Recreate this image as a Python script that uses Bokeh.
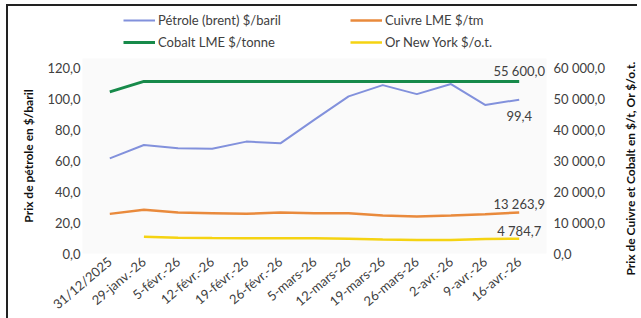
import math
from bokeh.plotting import figure
from bokeh.layouts import column, row
from bokeh.models import (ColumnDataSource, Range1d, FactorRange, LinearAxis,
                          FixedTicker, Legend, LegendItem, LabelSet)
from bokeh.core.properties import value
from bokeh.embed import file_html
from bokeh.resources import INLINE

dates = ["31/12/2025", "29-janv.-26", "5-févr.-26", "12-févr.-26", "19-févr.-26",
         "26-févr.-26", "5-mars-26", "12-mars-26", "19-mars-26", "26-mars-26",
         "2-avr.-26", "9-avr.-26", "16-avr.-26"]
petrole = [61.5, 70.1, 68.0, 67.7, 72.3, 71.2, 86.5, 101.5, 108.8, 103.0, 109.5, 96.0, 99.4]
cuivre = [12800, 14100, 13230, 13030, 12820, 13230, 13030, 13030, 12250, 11940, 12250, 12650, 13263.9]
cobalt = [52200, 55600, 55600, 55600, 55600, 55600, 55600, 55600, 55600, 55600, 55600, 55600, 55600]
or_dates = dates[1:]
or_ny = [5450, 5050, 4980, 4950, 4950, 4900, 4800, 4500, 4350, 4400, 4650, 4784.7]

left_ticks = [0, 20, 40, 60, 80, 100, 120]
right_ticks = [0, 10000, 20000, 30000, 40000, 50000, 60000]

series = [("Pétrole (brent) $/baril", "#8291dc", 2),
          ("Cobalt LME $/tonne", "#178a4a", 3),
          ("Cuivre LME $/tm", "#e98a3c", 2.5),
          ("Or New York $/o.t.", "#f5d312", 2.5)]

left_title = "Prix de pétrole en $/baril"
right_title = "Prix de Cuivre et Cobalt en $/t, Or $/o.t."


def fr(v):
    return f"{v:,.1f}".replace(",", " ").replace(".", ",")


FONT = "Lato"
TXT = "#404040"

# ---------------- main chart ----------------
p = figure(frame_width=464, frame_height=195, x_range=FactorRange(*dates), y_range=Range1d(0, 126),
           output_backend="svg", toolbar_location=None,
           min_border_left=74, min_border_right=58, min_border_top=6, min_border_bottom=20)
p.extra_y_ranges = {"right": Range1d(0, 63000)}
p.x_range.range_padding = 0.3
p.x_range.range_padding_units = "absolute"
p.background_fill_color = "#fafafa"
p.border_fill_color = "#ffffff"
p.outline_line_color = None
p.xgrid.visible = False
p.ygrid.visible = False

r_oil = p.line(dates, petrole, line_color=series[0][1], line_width=series[0][2])
r_cob = p.line(dates, cobalt, line_color=series[1][1], line_width=series[1][2], y_range_name="right")
r_cu = p.line(dates, cuivre, line_color=series[2][1], line_width=series[2][2], y_range_name="right")
r_or = p.line(or_dates, or_ny, line_color=series[3][1], line_width=series[3][2], y_range_name="right")

ya = p.yaxis[0]
ya.ticker = FixedTicker(ticks=left_ticks)
ya.major_label_overrides = {t: fr(t) for t in left_ticks}
ya.axis_label = left_title
ra = LinearAxis(y_range_name="right", ticker=FixedTicker(ticks=right_ticks))
ra.major_label_overrides = {t: fr(t) for t in right_ticks}
p.add_layout(ra, "right")
xa = p.xaxis[0]
xa.major_label_orientation = 0.7

for ax in (ya, ra, xa):
    ax.axis_line_color = None
    ax.major_tick_line_color = None
    ax.minor_tick_line_color = None
    ax.major_tick_in = 0
    ax.major_tick_out = 0
    ax.minor_tick_in = 0
    ax.minor_tick_out = 0
    ax.major_label_text_font = FONT
    ax.major_label_text_font_size = "13px"
    ax.major_label_text_color = TXT
    ax.axis_label_text_font = FONT
    ax.axis_label_text_font_size = "12px"
    ax.axis_label_text_font_style = "bold"
    ax.axis_label_text_color = "#111111"
ya.major_label_standoff = 2
ya.axis_label_standoff = 8
ra.major_label_standoff = 7
xa.major_label_standoff = 6


def dlabel(x, y, txt, dy, rng="default"):
    src = ColumnDataSource(dict(x=[x], y=[y], t=[txt]))
    p.add_layout(LabelSet(x="x", y="y", text="t", source=src, y_range_name=rng,
                          text_align="center", text_baseline="middle", y_offset=dy,
                          text_font=value(FONT), text_font_size=value("13px"),
                          text_color=value(TXT)))


dlabel(dates[-1], cobalt[-1], fr(cobalt[-1]), 10, "right")
dlabel(dates[-1], petrole[-1], fr(petrole[-1]), -16)
dlabel(dates[-1], cuivre[-1], fr(cuivre[-1]), 8, "right")
dlabel(or_dates[-1], or_ny[-1], fr(or_ny[-1]), 8, "right")

# ---------------- legend strip ----------------
lg = figure(frame_width=596, frame_height=46, x_range=Range1d(0, 1), y_range=Range1d(0, 1),
            output_backend="svg", toolbar_location=None, min_border=0)
lg.axis.visible = False
lg.grid.visible = False
lg.outline_line_color = None
lg.background_fill_color = "#ffffff"
lg.border_fill_color = "#ffffff"
lr = [lg.line([float("nan")], [float("nan")], line_color=c, line_width=w) for (_, c, w) in series]

common = dict(orientation="vertical", padding=0, margin=0, spacing=2, glyph_width=32,
              glyph_height=20, label_height=20, label_standoff=3, border_line_color=None,
              background_fill_alpha=0, label_text_font=FONT, label_text_font_size="13px",
              label_text_color=TXT)
leg1 = Legend(items=[LegendItem(label=series[0][0], renderers=[lr[0]]),
                     LegendItem(label=series[1][0], renderers=[lr[1]])],
              location=(115, 0), **common)
leg2 = Legend(items=[LegendItem(label=series[2][0], renderers=[lr[2]]),
                     LegendItem(label=series[3][0], renderers=[lr[3]])],
              location=(342, 0), **common)
lg.add_layout(leg1, "center")
lg.add_layout(leg2, "center")

# ---------------- right axis title strip ----------------
H = 300
rt = figure(frame_width=29, frame_height=H, x_range=Range1d(0, 29), y_range=Range1d(0, H),
            output_backend="svg", toolbar_location=None, min_border=0)
rt.axis.visible = False
rt.grid.visible = False
rt.outline_line_color = None
rt.background_fill_color = "#ffffff"
rt.border_fill_color = "#ffffff"
rt.text([22], [H - 162], text=[right_title], angle=math.pi / 2, text_align="center",
        text_baseline="middle", text_font=value(FONT), text_font_size="12px",
        text_font_style="bold", text_color="#111111")

lay = row(column(lg, p, spacing=0), rt, spacing=0)
lay.margin = (4, 0, 0, 6)
lay.styles = {"border-top": "2px solid #222", "border-left": "2px solid #222"}

open("out.html", "w").write(file_html(lay, INLINE))
